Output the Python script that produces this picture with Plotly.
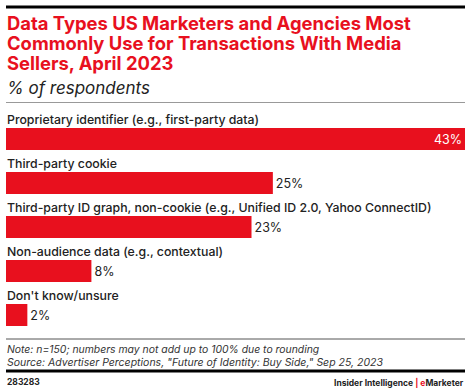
import plotly.graph_objects as go

categories = [
    "Proprietary identifier (e.g., first-party data)",
    "Third-party cookie",
    "Third-party ID graph, non-cookie (e.g., Unified ID 2.0, Yahoo ConnectID)",
    "Non-audience data (e.g., contextual)",
    "Don't know/unsure",
]
values = [43, 25, 23, 8, 2]
value_labels = ["43%", "25%", "23%", "8%", "2%"]

RED = "#e8101e"
FONT = "Inter"
W, H = 470, 391
L, R = 6, 465
top_px, bot_px = 105, 335
unit = 44.0
center0 = 139.0


def px_x(x):
    return (x - L) / (R - L)


def px_y(y):
    return (bot_px - y) / (bot_px - top_px)


positions = list(range(len(categories)))
textpos = ["inside" if v == max(values) else "outside" for v in values]
textcolors = ["white" if v == max(values) else "#222222" for v in values]

fig = go.Figure()
fig.add_trace(go.Bar(
    x=values, y=positions, orientation="h",
    marker=dict(color=RED, line=dict(width=0)),
    width=0.5,
    text=value_labels, textposition=textpos,
    insidetextanchor="end",
    textfont=dict(family=FONT, size=12.5, color=textcolors),
    cliponaxis=False,
    hoverinfo="skip",
))

annotations = []
for p, c in zip(positions, categories):
    annotations.append(dict(
        x=0, y=p - 0.44, xref="x", yref="y", text=c, showarrow=False,
        xanchor="left", yanchor="middle", xshift=-1,
        font=dict(family=FONT, size=12.3, color="#222222", weight=500),
    ))

title_lines = [
    "Data Types US Marketers and Agencies Most",
    "Commonly Use for Transactions With Media",
    "Sellers, April 2023",
]
for i, t in enumerate(title_lines):
    annotations.append(dict(
        x=px_x(6), y=px_y(23 + 20 * i), xref="paper", yref="paper",
        text="<b>" + t + "</b>", showarrow=False, xanchor="left", yanchor="middle",
        xshift=-1, font=dict(family=FONT, size=18.4, color=RED),
    ))
annotations.append(dict(
    x=px_x(6), y=px_y(88), xref="paper", yref="paper",
    text="<i>% of respondents</i>", showarrow=False, xanchor="left", yanchor="middle",
    xshift=-1, font=dict(family=FONT, size=17, color="#222222"),
))
annotations.append(dict(
    x=px_x(6), y=px_y(349), xref="paper", yref="paper",
    text="<i>Note: n=150; numbers may not add up to 100% due to rounding</i>",
    showarrow=False, xanchor="left", yanchor="middle", xshift=-1,
    font=dict(family=FONT, size=10.4, color="#333333"),
))
annotations.append(dict(
    x=px_x(6), y=px_y(362), xref="paper", yref="paper",
    text="<i>Source: Advertiser Perceptions, \"Future of Identity: Buy Side,\" Sep 25, 2023</i>",
    showarrow=False, xanchor="left", yanchor="middle", xshift=-1,
    font=dict(family=FONT, size=10.5, color="#333333"),
))
annotations.append(dict(
    x=px_x(6), y=px_y(382), xref="paper", yref="paper",
    text="<b>283283</b>", showarrow=False, xanchor="left", yanchor="middle",
    xshift=-1, font=dict(family=FONT, size=8.5, color="#222222"),
))
annotations.append(dict(
    x=px_x(465), y=px_y(382), xref="paper", yref="paper",
    text="<b>Insider Intelligence <span style='color:" + RED + "'>|</span> <span style='color:" + RED + "'>e</span>Marketer</b>",
    showarrow=False, xanchor="right", yanchor="middle", xshift=1,
    font=dict(family=FONT, size=8.5, color="#222222"),
))

shapes = [
    dict(type="line", xref="paper", yref="paper", x0=px_x(6), x1=px_x(465),
         y0=px_y(7), y1=px_y(7), line=dict(color="black", width=3)),
    dict(type="line", xref="paper", yref="paper", x0=px_x(6), x1=px_x(465),
         y0=px_y(102.5), y1=px_y(102.5), line=dict(color="#999999", width=1)),
    dict(type="line", xref="paper", yref="paper", x0=px_x(6), x1=px_x(465),
         y0=px_y(339), y1=px_y(339), line=dict(color="#555555", width=1)),
    dict(type="line", xref="paper", yref="paper", x0=px_x(6), x1=px_x(465),
         y0=px_y(371), y1=px_y(371), line=dict(color="black", width=3)),
]

fig.update_layout(
    width=W, height=H,
    margin=dict(l=L, r=W - R, t=top_px, b=H - bot_px, pad=0, autoexpand=False),
    paper_bgcolor="white", plot_bgcolor="white",
    showlegend=False,
    xaxis=dict(range=[0, max(values)], visible=False, fixedrange=True),
    yaxis=dict(range=[(bot_px - center0) / unit, (top_px - center0) / unit],
               visible=False, fixedrange=True),
    annotations=annotations, shapes=shapes,
)
fig.write_html(
    "out.html",
    config={"displayModeBar": False},
    post_script="document.body.style.margin='0';document.body.style.overflow='hidden';",
)
